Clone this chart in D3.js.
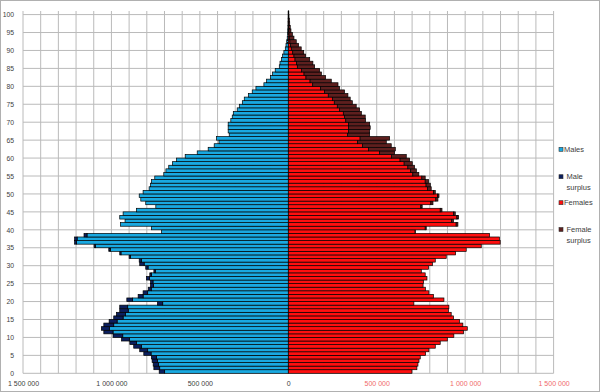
<!DOCTYPE html>
<html><head><meta charset="utf-8">
<script src="https://cdn.jsdelivr.net/npm/d3@7/dist/d3.min.js"></script>
<style>
html,body{margin:0;padding:0;background:#fff;}
svg{display:block;font-family:"Liberation Sans",Arial,sans-serif;}
</style></head>
<body>
<svg id="chart" width="600" height="392"></svg>
<script>
// Ages 0..100
const ages = d3.range(0, 101);
// Population by single year of age (thousands)
const males = [
730, 760, 764, 770, 774, 817, 840, 874, 896, 943,
991, 1043, 1057, 1043, 1013, 987, 972, 953, 953, 740,
913, 849, 821, 792, 779, 779, 802, 783, 760, 806,
840, 843, 900, 953, 1015, 1098, 1208, 1208, 1155, 717,
774, 949, 923, 953, 934, 859, 749, 806, 834, 843,
821, 787, 779, 774, 755, 704, 692, 676, 655, 632,
583, 515, 453, 419, 392, 406, 334, 340, 340, 340,
325, 317, 311, 289, 277, 260, 249, 226, 204, 183,
138, 123, 100, 89, 74, 51, 47, 38, 32, 25,
17, 13, 9, 6, 4, 3, 2, 1.5, 1, 0.6, 0.4
];
const females = [
699, 727, 733, 739, 746, 776, 795, 831, 859, 899,
936, 991, 1012, 987, 968, 934, 921, 905, 908, 710,
880, 821, 795, 775, 762, 765, 784, 774, 752, 793,
815, 831, 893, 946, 1006, 1091, 1198, 1194, 1138, 718,
780, 959, 934, 963, 944, 869, 757, 818, 846, 852,
831, 808, 803, 793, 774, 738, 724, 714, 701, 686,
667, 601, 605, 582, 554, 573, 460, 460, 463, 460,
437, 435, 413, 403, 384, 362, 350, 337, 318, 290,
281, 243, 211, 187, 177, 149, 139, 121, 98, 87,
73, 58, 45, 32, 23, 15, 11, 8, 6, 4, 3
];
const xTicks = [-1500000, -1000000, -500000, 0, 500000, 1000000, 1500000];
const yTicks = d3.range(0, 101, 5);
const legendLabels = [["Males"], ["Male", "surplus"], ["Females"], ["Female", "surplus"]];
const colors = {males: "#19a9e1", maleSurplus: "#0b1f5e", females: "#ff0f0f", femaleSurplus: "#5e1f1e"};

const svg = d3.select("#chart");
const W = 600, H = 392;
const x = d3.scaleLinear().domain([-1500000, 1500000]).range([23, 553.6]);
const y = d3.scaleLinear().domain([0, 101]).range([373.3, 11]);

// frame
svg.append("rect").attr("x", 0.5).attr("y", 0.5).attr("width", W - 1).attr("height", H - 1)
  .attr("fill", "#fff").attr("stroke", "#b0b0b0");

// gridlines
const grid = svg.append("g");
grid.selectAll("line.v").data(d3.range(-1500000, 1500001, 100000)).join("line")
  .attr("x1", d => x(d)).attr("x2", d => x(d))
  .attr("y1", y(101)).attr("y2", y(0))
  .attr("stroke", (d) => d === 0 ? "#9a9a9a" : "#bababa").attr("stroke-width", 1);
grid.selectAll("line.h").data(yTicks).join("line")
  .attr("x1", x(-1500000)).attr("x2", x(1500000))
  .attr("y1", d => y(d)).attr("y2", d => y(d))
  .attr("stroke", "#bababa").attr("stroke-width", 1);

// bars
const rows = ages.map(a => {
  const m = males[a] * 1000, f = females[a] * 1000, c = Math.min(m, f);
  return {a, m, f, c};
});
const segs = [];
rows.forEach(r => {
  segs.push({a: r.a, x0: x(-r.c), x1: x(0), fill: colors.males});
  if (r.m > r.f) segs.push({a: r.a, x0: x(-r.m), x1: x(-r.c), fill: colors.maleSurplus});
  segs.push({a: r.a, x0: x(0), x1: x(r.c), fill: colors.females});
  if (r.f > r.m) segs.push({a: r.a, x0: x(r.c), x1: x(r.f), fill: colors.femaleSurplus});
});
svg.append("g").selectAll("rect").data(segs).join("rect")
  .attr("x", d => d.x0).attr("width", d => Math.max(0, d.x1 - d.x0))
  .attr("y", d => y(d.a + 1)).attr("height", d => y(d.a) - y(d.a + 1))
  .attr("fill", d => d.fill).attr("stroke", "#000").attr("stroke-width", 0.7);

// axes
const fmt = v => d3.format(",")(Math.abs(v)).replace(/,/g, " ");
const xa = svg.append("g").attr("transform", `translate(0,${y(0)})`)
  .call(d3.axisBottom(x).tickValues(xTicks).tickFormat(fmt).tickSize(0).tickPadding(8));
xa.select(".domain").remove();
xa.selectAll("text").attr("font-size", 7).attr("font-family", "Liberation Sans, Arial, sans-serif")
  .attr("fill", d => d > 0 ? "#f06a6a" : "#404040");

const ya = svg.append("g").attr("transform", `translate(${x(-1500000)},0)`)
  .call(d3.axisLeft(y).tickValues(yTicks).tickSize(0).tickPadding(9));
ya.select(".domain").remove();
ya.selectAll("text").attr("font-size", 6.8).attr("font-family", "Liberation Sans, Arial, sans-serif")
  .attr("fill", "#404040");

// legend
const legY = [149.3, 176.7, 202.7, 229.5];
const legColors = [colors.males, colors.maleSurplus, colors.females, colors.femaleSurplus];
const leg = svg.append("g");
legendLabels.forEach((lines, i) => {
  leg.append("rect").attr("x", 559).attr("y", legY[i] - 2).attr("width", 4).attr("height", 4)
    .attr("fill", legColors[i]).attr("stroke", "#333").attr("stroke-width", 0.6);
  const tx = lines.length > 1 ? 566.5 : 564;
  lines.forEach((t, j) => {
    leg.append("text").attr("x", tx).attr("y", legY[i] + j * 10.5)
      .attr("dominant-baseline", "central").attr("font-size", 7.5).attr("fill", "#404040").text(t);
  });
});
</script>
</body></html>
